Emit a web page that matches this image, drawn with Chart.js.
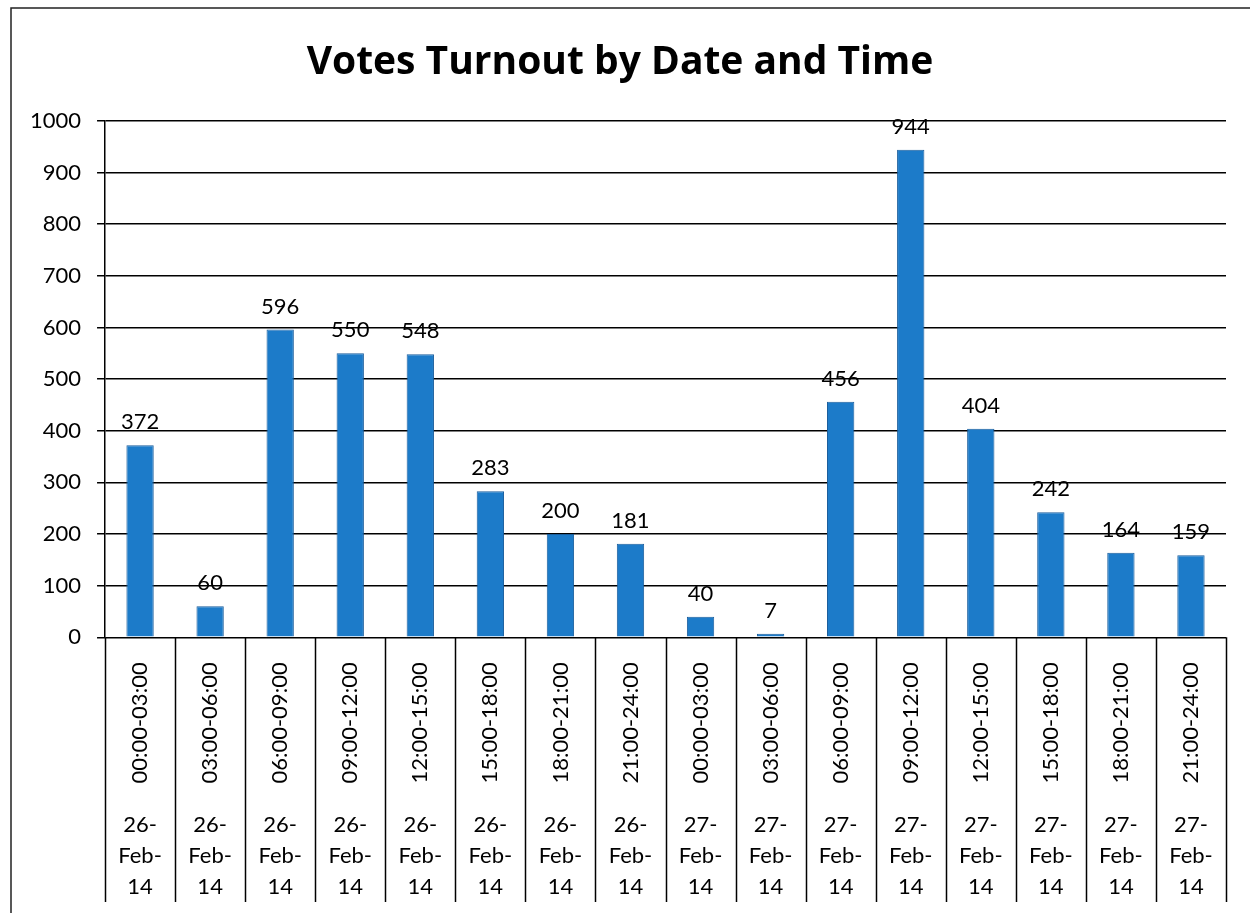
<!DOCTYPE html>
<html>
<head>
<meta charset="utf-8">
<script src="https://cdn.jsdelivr.net/npm/chart.js@4"></script>
<style>
  html, body { margin: 0; padding: 0; background: #fff; }
  #wrap { width: 1250px; height: 913px; }
</style>
</head>
<body>
<div id="wrap"><canvas id="votesChart"></canvas></div>
<script>
// time slots and dates for each bar
const timeSlots = ['00:00-03:00', '03:00-06:00', '06:00-09:00', '09:00-12:00',
  '12:00-15:00', '15:00-18:00', '18:00-21:00', '21:00-24:00',
  '00:00-03:00', '03:00-06:00', '06:00-09:00', '09:00-12:00',
  '12:00-15:00', '15:00-18:00', '18:00-21:00', '21:00-24:00'];
const dates = ['26-Feb-14', '26-Feb-14', '26-Feb-14', '26-Feb-14',
  '26-Feb-14', '26-Feb-14', '26-Feb-14', '26-Feb-14',
  '27-Feb-14', '27-Feb-14', '27-Feb-14', '27-Feb-14',
  '27-Feb-14', '27-Feb-14', '27-Feb-14', '27-Feb-14'];
const votes = [372, 60, 596, 550, 548, 283, 200, 181, 40, 7, 456, 944, 404, 242, 164, 159];

const FONT = 'Lato, "Open Sans", sans-serif';

// border round the whole chart + value labels + category separators
const extras = {
    id: 'extras',
    beforeDraw(chart) {
        const c = chart.ctx;
        c.save();
        c.strokeStyle = '#222';
        c.lineWidth = 1.5;
        c.beginPath();
        c.moveTo(11, 913);
        c.lineTo(11, 8);
        c.lineTo(1250, 8);
        c.stroke();
        c.restore();
    },
    afterDraw(chart) {
        const c = chart.ctx;
        const x = chart.scales.x;
        const area = chart.chartArea;
        const step = (x.right - x.left) / timeSlots.length;
        c.save();
        c.strokeStyle = '#000';
        c.lineWidth = 1.5;
        for (let i = 0; i <= timeSlots.length; i++) {
            const px = Math.round(x.left + i * step) + 0.5;
            c.beginPath();
            c.moveTo(px, area.bottom);
            c.lineTo(px, 902);
            c.stroke();
        }
        // values over bars
        c.fillStyle = '#000';
        c.font = '22px ' + FONT;
        c.textAlign = 'center';
        c.textBaseline = 'bottom';
        chart.getDatasetMeta(0).data.forEach(function(bar, i) {
            c.fillText(votes[i], bar.x, bar.y - 12);
        });
        c.restore();
    }
};

const ctx = document.getElementById('votesChart').getContext('2d');
new Chart(ctx, {
    type: 'bar',
    data: {
        labels: timeSlots,
        datasets: [{
            data: votes,
            backgroundColor: '#1c7bc9',
            borderColor: '#1a5d9c',
            borderWidth: 1,
            categoryPercentage: 1,
            barPercentage: 0.39
        }]
    },
    options: {
        responsive: true,
        maintainAspectRatio: false,
        animation: false,
        layout: { padding: { left: 14, right: 24, top: 8, bottom: 10 } },
        plugins: {
            legend: { display: false },
            tooltip: { enabled: false },
            title: {
                display: true,
                text: 'Votes Turnout by Date and Time',
                color: '#000',
                font: { family: '"Open Sans", Lato, sans-serif', size: 39, weight: 'bold' },
                padding: { top: 31, bottom: 35 }
            }
        },
        scales: {
            y: {
                min: 0,
                max: 1000,
                ticks: {
                    stepSize: 100,
                    color: '#000',
                    padding: 16,
                    font: { family: FONT, size: 22 },
                    callback: function(v) { return String(v); }
                },
                grid: { color: '#000', lineWidth: 1.5, tickLength: 8 },
                border: { color: '#000', width: 1.5 }
            },
            x: {
                weight: 0,
                grid: { display: false },
                border: { display: false },
                ticks: {
                    color: '#000',
                    minRotation: 90,
                    maxRotation: 90,
                    autoSkip: false,
                    padding: 17,
                    font: { family: FONT, size: 22 }
                }
            },
            x2: {
                type: 'category',
                position: 'bottom',
                weight: 1,
                labels: dates.map(function(d) {
                    const p = d.split('-');
                    return [p[0] + '-', p[1] + '-', p[2]];
                }),
                grid: { display: false },
                border: { display: false },
                ticks: {
                    color: '#000',
                    maxRotation: 0,
                    autoSkip: false,
                    padding: 1,
                    font: { family: FONT, size: 22, lineHeight: 1.4 }
                }
            }
        }
    },
    plugins: [extras]
});
</script>
</body>
</html>
